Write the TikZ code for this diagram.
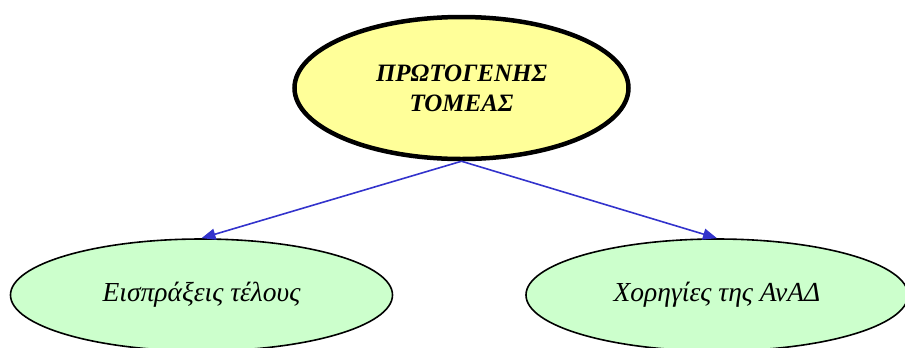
\documentclass[tikz,border=0pt]{standalone}
\usepackage{fontspec}
\setmainfont{Liberation Serif}
\usetikzlibrary{shapes.geometric,arrows.meta}
\definecolor{rootfill}{HTML}{FFFF99}
\definecolor{leaffill}{HTML}{CCFFCC}
\definecolor{edgeblue}{HTML}{3333CC}
\tikzset{
  rootnode/.style={ellipse,draw=black,line width=4.5bp,fill=rootfill,inner sep=0pt,
    minimum width=334bp,minimum height=142bp,align=center,
    font=\fontsize{25bp}{30bp}\selectfont\bfseries\itshape},
  leafnode/.style={ellipse,draw=black,line width=1.6bp,fill=leaffill,inner sep=0pt,
    minimum width=382bp,minimum height=112bp,
    font=\fontsize{27.5bp}{30bp}\selectfont\itshape},
  link/.style={-{Triangle[length=14bp,width=11bp]},draw=edgeblue,fill=edgeblue,line width=1.6bp}
}
\begin{document}
\begin{tikzpicture}[x=1bp,y=-1bp]
\useasboundingbox (0,0) rectangle (905,347);
\node[rootnode] (root) at (461.5,88) {ΠΡΩΤΟΓΕΝΗΣ\\ΤΟΜΕΑΣ};
\node[leafnode] (fees) at (201.5,295) {Εισπράξεις τέλους};
\node[leafnode] (grants) at (717,295) {Χορηγίες της ΑνΑΔ};
\draw[link] (root.south) -- (fees.north);
\draw[link] (root.south) -- (grants.north);
\end{tikzpicture}
\end{document}
